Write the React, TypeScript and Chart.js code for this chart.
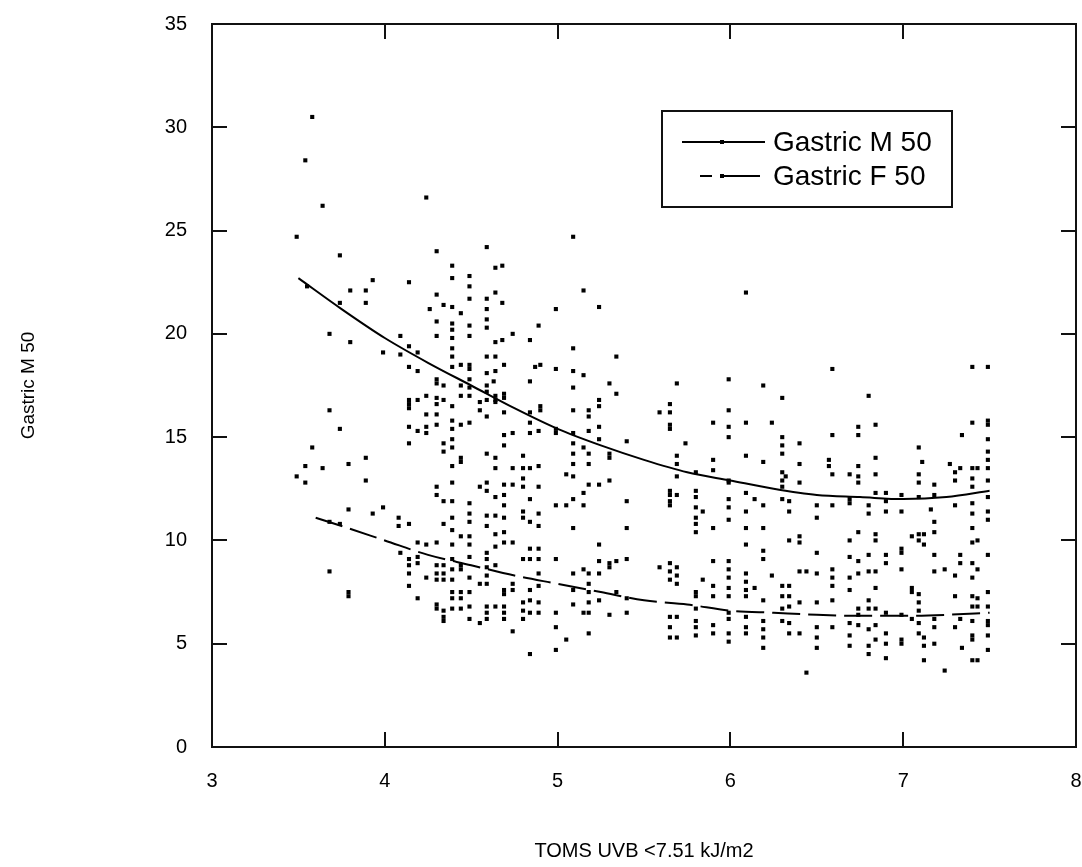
import React, { useEffect, useRef } from "react";
import { Chart, registerables } from "chart.js";
Chart.register(...registerables);

const xTicks = [3, 4, 5, 6, 7, 8];
const yTicks = [0, 5, 10, 15, 20, 25, 30, 35];
const seriesNames = ["Gastric M 50", "Gastric F 50"];
const xTitle = "TOMS UVB <7.51 kJ/m2";
const yTitle = "Gastric M 50";

const maleFitX = [3.5, 3.75, 4, 4.25, 4.5, 4.75, 5, 5.25, 5.5, 5.75, 6, 6.25, 6.5, 6.75, 7, 7.25, 7.5];
const maleFitY = [22.7, 21.2, 19.8, 18.6, 17.5, 16.4, 15.4, 14.6, 13.9, 13.3, 12.9, 12.5, 12.2, 12.1, 12.0, 12.1, 12.4];
const femaleFitX = [3.6, 3.75, 4, 4.25, 4.5, 4.75, 5, 5.25, 5.5, 5.75, 6, 6.25, 6.5, 6.75, 7, 7.25, 7.5];
const femaleFitY = [11.1, 10.7, 10.0, 9.3, 8.8, 8.3, 7.9, 7.5, 7.1, 6.9, 6.6, 6.5, 6.4, 6.35, 6.35, 6.4, 6.5];

const malePoints: [number, number][] = [
  [3.49, 24.7], [3.58, 30.5], [3.54, 28.4], [3.64, 26.2], [3.74, 23.8], [4.24, 26.6], [4.3, 24.0], [3.55, 22.3],
  [3.8, 22.1], [3.89, 22.1], [3.93, 22.6], [4.14, 22.5], [3.74, 21.5], [3.89, 21.5], [4.3, 21.9], [4.34, 21.4],
  [4.26, 21.2], [4.3, 20.6], [4.3, 19.9], [3.68, 20.0], [3.8, 19.6], [4.09, 19.9], [4.14, 19.4], [3.68, 16.3],
  [3.74, 15.4], [3.58, 14.5], [3.54, 13.6], [3.64, 13.5], [3.49, 13.1], [3.54, 12.8], [3.79, 13.7], [3.89, 14.0],
  [3.89, 12.9],
  [4.59, 24.2], [4.39, 23.3], [4.39, 22.7], [4.49, 22.8], [4.49, 22.3], [4.49, 21.7], [4.64, 23.2], [4.68, 23.3],
  [4.64, 22.0], [4.68, 21.5], [4.39, 21.3], [4.44, 21.0], [4.39, 20.5], [4.39, 20.2], [4.39, 19.8], [4.49, 20.4],
  [4.49, 19.9], [4.59, 21.7], [4.59, 21.2], [4.59, 20.7], [4.59, 20.3], [4.64, 19.6], [4.68, 19.7], [4.74, 20.0],
  [4.84, 19.7], [4.89, 20.4], [4.99, 21.2], [5.15, 22.1], [5.24, 21.3], [5.09, 19.3], [4.39, 19.3], [6.09, 22.0],
  [5.09, 24.7],
  [3.99, 19.1], [4.09, 19.0], [4.19, 19.1], [4.39, 18.9], [4.59, 18.9], [4.64, 18.9], [4.14, 18.4], [4.19, 18.2],
  [4.39, 18.4], [4.44, 18.5], [4.49, 18.5], [4.49, 18.3], [4.59, 18.1], [4.64, 18.2], [4.69, 18.5], [4.87, 18.4],
  [4.9, 18.5], [4.99, 18.3], [5.09, 18.2], [5.15, 18.0], [5.34, 18.9],
  [4.3, 17.8], [4.3, 17.6], [4.34, 17.5], [4.44, 17.5], [4.44, 17.0], [4.49, 17.8], [4.49, 17.4], [4.49, 17.0],
  [4.59, 17.5], [4.59, 17.2], [4.59, 16.8], [4.63, 17.7], [4.64, 17.0], [4.64, 16.8], [4.69, 17.1], [4.69, 16.9],
  [4.84, 17.7], [5.09, 17.4], [5.3, 17.6], [5.34, 17.1],
  [4.14, 16.8], [4.14, 16.6], [4.14, 16.4], [4.19, 16.8], [4.24, 17.0], [4.3, 16.9], [4.3, 16.6], [4.34, 16.8],
  [4.39, 16.5], [4.55, 16.7], [4.55, 16.3], [4.59, 16.0], [4.64, 16.7], [4.69, 16.2], [4.84, 16.2], [4.9, 16.5],
  [4.9, 16.3], [5.09, 16.3], [5.18, 16.3], [5.18, 16.0], [5.24, 16.8], [5.24, 16.5],
  [4.24, 16.1], [4.3, 16.1], [4.14, 15.5], [4.19, 15.3], [4.24, 15.5], [4.24, 15.2], [4.3, 15.6], [4.39, 15.8],
  [4.39, 15.4], [4.44, 15.6], [4.49, 15.7], [4.84, 15.7], [4.84, 15.2], [4.89, 15.3], [4.99, 15.4], [4.99, 15.2],
  [5.09, 15.2], [5.09, 14.7], [5.18, 15.3], [5.24, 15.5], [5.24, 14.9],
  [4.14, 14.7], [4.34, 14.7], [4.34, 14.3], [4.39, 14.9], [4.39, 14.5], [4.69, 15.1], [4.69, 14.6], [4.74, 15.2],
  [5.15, 14.5], [5.18, 14.2], [5.18, 13.7], [5.3, 14.2], [5.3, 14.0], [5.4, 14.8], [5.09, 14.2], [5.09, 13.7],
  [4.44, 14.0], [4.44, 13.8], [4.39, 13.6], [4.59, 14.2], [4.64, 14.0], [4.64, 13.5], [4.8, 14.1], [4.8, 13.5],
  [4.8, 13.0], [4.74, 13.5], [4.84, 13.5], [4.89, 13.6], [5.05, 13.2], [5.09, 13.1], [5.3, 12.9], [5.18, 12.7],
  [5.24, 12.7],
  [4.3, 12.6], [4.3, 12.2], [4.39, 12.8], [4.55, 12.6], [4.59, 12.8], [4.59, 12.4], [4.64, 12.1], [4.69, 12.7],
  [4.69, 12.2], [4.74, 12.7], [4.8, 12.6], [4.84, 12.0], [4.89, 12.6], [5.09, 12.0], [5.15, 12.3], [5.15, 11.7],
  [5.4, 11.9], [4.99, 11.7], [4.34, 11.9], [4.39, 11.9], [4.49, 11.8], [4.69, 11.7], [5.05, 11.7],
  [5.69, 17.6], [5.59, 16.2], [5.65, 16.6], [5.65, 16.2], [5.65, 15.6], [5.65, 15.4], [5.74, 14.7], [5.69, 14.1],
  [5.69, 13.7], [5.69, 13.1], [5.65, 12.4], [5.65, 12.2], [5.69, 12.2], [5.65, 11.9], [5.65, 11.7], [5.8, 13.3],
  [5.8, 12.4], [5.8, 12.1], [5.8, 11.6], [5.84, 11.4], [5.9, 15.7], [5.9, 13.9], [5.9, 13.4], [5.99, 17.8],
  [5.99, 16.3], [5.99, 15.5], [5.99, 15.0], [5.99, 12.9], [5.99, 12.8], [5.99, 12.0], [5.99, 11.6], [6.09, 15.7],
  [6.09, 14.1], [6.09, 12.3], [6.09, 11.4], [6.14, 12.0], [6.19, 17.5], [6.19, 13.8], [6.19, 11.7], [6.24, 15.7],
  [6.3, 16.9], [6.3, 15.0], [6.3, 14.6], [6.3, 14.2], [6.3, 13.3], [6.3, 12.9], [6.3, 12.6], [6.32, 13.1],
  [6.3, 12.0], [6.34, 11.9], [6.34, 11.4], [6.5, 11.7], [6.5, 11.1], [6.4, 14.7], [6.4, 13.7], [6.4, 12.8],
  [6.59, 18.3], [6.59, 15.1], [6.57, 13.9], [6.57, 13.6], [6.59, 13.2], [6.59, 11.7], [6.69, 13.2], [6.69, 12.0],
  [6.69, 11.8], [6.74, 15.5], [6.74, 15.1], [6.74, 13.6], [6.74, 13.1], [6.74, 12.8], [6.8, 17.0], [6.8, 11.7],
  [6.8, 11.3], [6.84, 15.6], [6.84, 14.0], [6.84, 13.2], [6.84, 12.3], [6.9, 12.3], [6.9, 11.9], [6.9, 11.4],
  [6.99, 12.2], [6.99, 11.4], [7.09, 14.5], [7.09, 13.2], [7.09, 12.8], [7.09, 12.1], [7.11, 13.8], [7.18, 12.7],
  [7.18, 12.2], [7.16, 11.5], [7.27, 13.7], [7.3, 13.3], [7.3, 12.9], [7.3, 11.7], [7.33, 13.5], [7.34, 15.1],
  [7.4, 18.4], [7.4, 15.7], [7.4, 13.5], [7.4, 13.0], [7.4, 12.6], [7.4, 11.8], [7.4, 11.3], [7.43, 13.5],
  [7.49, 18.4], [7.49, 15.8], [7.49, 15.6], [7.49, 14.9], [7.49, 14.3], [7.49, 13.9], [7.49, 13.5], [7.49, 12.9],
  [7.49, 12.1], [7.49, 11.4], [7.49, 11.0],
];

const femalePoints: [number, number][] = [
  [3.79, 11.5], [3.93, 11.3], [3.99, 11.6], [3.68, 10.9], [3.74, 10.8], [3.68, 8.5], [3.79, 7.5], [3.79, 7.3],
  [4.08, 11.1], [4.08, 10.7], [4.14, 10.8], [4.34, 10.8], [4.39, 11.1], [4.39, 10.5], [4.39, 9.8], [4.44, 10.2],
  [4.49, 11.3], [4.49, 10.9], [4.49, 10.2], [4.49, 9.8], [4.59, 11.2], [4.59, 10.7], [4.64, 11.2], [4.64, 10.3],
  [4.64, 9.7], [4.69, 11.1], [4.69, 10.4], [4.69, 9.9], [4.74, 9.9], [4.8, 11.4], [4.8, 11.1], [4.84, 10.9],
  [4.89, 11.3], [4.89, 10.7], [5.09, 10.6], [5.4, 10.6], [5.24, 9.8],
  [4.3, 9.9], [4.24, 9.8], [4.19, 9.9], [4.09, 9.4], [4.14, 9.1], [4.14, 8.8], [4.14, 8.4], [4.19, 9.2],
  [4.19, 8.9], [4.24, 8.2], [4.3, 8.8], [4.3, 8.4], [4.3, 8.1], [4.34, 8.8], [4.34, 8.4], [4.34, 8.1],
  [4.39, 9.1], [4.39, 8.6], [4.39, 8.1], [4.44, 8.8], [4.44, 8.6], [4.49, 9.2], [4.49, 8.2], [4.55, 7.9],
  [4.59, 9.4], [4.59, 9.1], [4.59, 8.7], [4.59, 8.3], [4.59, 7.9], [4.64, 8.8], [4.8, 9.1], [4.84, 9.6],
  [4.84, 9.1], [4.89, 9.6], [4.89, 9.1], [4.89, 8.4], [4.89, 7.8], [4.99, 9.1], [5.09, 8.4], [5.09, 7.6],
  [5.15, 8.6], [5.18, 8.4], [5.18, 7.9], [5.24, 9.0], [5.24, 8.4], [5.3, 8.9], [5.3, 8.7], [5.34, 9.0],
  [5.4, 9.1], [5.4, 7.2],
  [4.14, 7.8], [4.19, 7.2], [4.3, 6.9], [4.3, 6.7], [4.34, 6.6], [4.34, 6.3], [4.34, 6.1], [4.39, 7.5],
  [4.39, 7.2], [4.39, 6.7], [4.44, 7.5], [4.44, 7.2], [4.44, 6.7], [4.49, 7.5], [4.49, 6.8], [4.49, 6.2],
  [4.55, 6.0], [4.59, 6.8], [4.59, 6.5], [4.59, 6.2], [4.64, 6.8], [4.69, 6.8], [4.69, 6.5], [4.69, 6.2],
  [4.69, 7.6], [4.69, 7.4], [4.74, 7.9], [4.74, 7.6], [4.8, 7.0], [4.8, 6.6], [4.8, 6.2], [4.84, 7.6],
  [4.84, 7.1], [4.84, 6.5], [4.89, 7.0], [4.89, 6.5], [4.99, 6.5], [4.99, 5.8], [4.99, 4.7], [5.05, 5.2],
  [4.84, 4.5], [4.74, 5.6], [5.09, 6.9], [5.15, 6.5], [5.18, 7.5], [5.18, 7.0], [5.18, 6.5], [5.18, 5.5],
  [5.24, 7.1], [5.3, 6.4], [5.4, 6.5], [5.34, 7.5],
  [5.59, 8.7], [5.65, 8.9], [5.65, 8.5], [5.65, 8.1], [5.69, 8.7], [5.69, 8.3], [5.69, 7.9], [5.65, 6.3],
  [5.65, 5.8], [5.65, 5.3], [5.69, 5.3], [5.69, 6.3], [5.8, 11.1], [5.8, 10.8], [5.8, 10.4], [5.8, 7.5],
  [5.8, 7.3], [5.8, 6.7], [5.8, 6.1], [5.8, 5.8], [5.8, 5.4], [5.84, 8.1], [5.9, 10.6], [5.9, 9.0],
  [5.9, 7.8], [5.9, 7.3], [5.9, 5.9], [5.9, 5.5], [5.99, 11.0], [5.99, 9.0], [5.99, 8.6], [5.99, 8.2],
  [5.99, 7.7], [5.99, 7.3], [5.99, 6.5], [5.99, 6.2], [5.99, 5.5], [5.99, 5.1], [6.09, 10.6], [6.09, 9.8],
  [6.09, 8.4], [6.09, 8.0], [6.09, 7.6], [6.09, 7.3], [6.09, 6.3], [6.09, 5.8], [6.09, 5.5], [6.14, 7.7],
  [6.19, 10.6], [6.19, 9.5], [6.19, 9.1], [6.19, 7.1], [6.19, 6.1], [6.19, 5.7], [6.19, 5.3], [6.19, 4.8],
  [6.24, 8.3], [6.3, 7.8], [6.3, 7.3], [6.3, 6.7], [6.3, 6.1], [6.34, 7.8], [6.34, 7.3], [6.34, 6.8],
  [6.34, 6.0], [6.34, 5.5], [6.34, 10.0], [6.4, 10.2], [6.4, 9.9], [6.4, 8.5], [6.44, 8.5], [6.4, 7.0],
  [6.4, 5.5], [6.44, 3.6], [6.5, 9.4], [6.5, 8.4], [6.5, 7.0], [6.5, 5.8], [6.5, 5.3], [6.5, 4.8],
  [6.59, 8.6], [6.59, 8.2], [6.59, 7.8], [6.59, 7.1], [6.59, 5.8], [6.69, 10.0], [6.69, 9.2], [6.69, 8.2],
  [6.69, 7.6], [6.69, 6.0], [6.69, 5.4], [6.69, 4.9], [6.74, 10.4], [6.74, 9.0], [6.74, 8.4], [6.74, 6.7],
  [6.74, 6.4], [6.74, 5.9], [6.8, 9.3], [6.8, 8.5], [6.8, 7.1], [6.8, 6.7], [6.8, 5.7], [6.8, 4.9],
  [6.8, 4.5], [6.84, 10.3], [6.84, 10.0], [6.84, 8.5], [6.84, 7.7], [6.84, 6.7], [6.84, 5.9], [6.84, 5.2],
  [6.9, 9.3], [6.9, 8.9], [6.9, 6.5], [6.9, 5.5], [6.9, 5.0], [6.9, 4.3], [6.99, 9.6], [6.99, 9.4],
  [6.99, 8.6], [6.99, 6.4], [6.99, 5.2], [6.99, 5.0], [7.05, 10.2], [7.05, 7.7], [7.05, 7.5], [7.05, 6.2],
  [7.09, 10.3], [7.09, 10.0], [7.09, 7.4], [7.09, 7.0], [7.09, 6.6], [7.09, 6.0], [7.09, 5.5], [7.12, 10.3],
  [7.12, 9.8], [7.12, 5.3], [7.12, 4.9], [7.12, 4.2], [7.18, 10.9], [7.18, 10.4], [7.18, 9.3], [7.18, 8.5],
  [7.18, 6.2], [7.18, 5.8], [7.18, 5.0], [7.24, 8.6], [7.24, 3.7], [7.3, 8.3], [7.3, 7.3], [7.3, 5.8],
  [7.33, 9.3], [7.33, 8.9], [7.33, 6.2], [7.34, 4.8], [7.4, 10.6], [7.4, 9.9], [7.4, 8.9], [7.4, 8.2],
  [7.4, 7.3], [7.4, 6.8], [7.4, 6.1], [7.4, 5.4], [7.4, 5.2], [7.4, 4.2], [7.43, 10.0], [7.43, 8.6],
  [7.43, 7.2], [7.43, 6.8], [7.43, 4.2], [7.49, 9.3], [7.49, 7.5], [7.49, 6.8], [7.49, 6.1], [7.49, 5.9],
  [7.49, 5.4], [7.49, 4.7],
];

const AXIS_FONT = "'Liberation Sans', Arial, sans-serif";
const LEGEND_FONT = "'Liberation Sans', Arial, sans-serif";

const framePlugin = {
  id: "frameTicksLegend",
  afterDatasetsDraw(chart: any) {
    const { ctx, chartArea, scales } = chart;
    const { left, right, top, bottom } = chartArea;
    const xs = scales.x;
    const ys = scales.y;
    ctx.save();
    ctx.strokeStyle = "#111";
    ctx.lineWidth = 2;
    ctx.strokeRect(left, top, right - left, bottom - top);
    ctx.beginPath();
    for (const v of yTicks) {
      const py = Math.round(ys.getPixelForValue(v));
      ctx.moveTo(left, py);
      ctx.lineTo(left + 15, py);
      ctx.moveTo(right, py);
      ctx.lineTo(right - 15, py);
    }
    for (const v of xTicks) {
      const px = Math.round(xs.getPixelForValue(v));
      ctx.moveTo(px, bottom);
      ctx.lineTo(px, bottom - 15);
      ctx.moveTo(px, top);
      ctx.lineTo(px, top + 15);
    }
    ctx.stroke();

    // legend box
    const bx = left + 450;
    const by = top + 87;
    const bw = 290;
    const bh = 96;
    ctx.fillStyle = "#fff";
    ctx.fillRect(bx, by, bw, bh);
    ctx.strokeStyle = "#111";
    ctx.lineWidth = 2;
    ctx.strokeRect(bx, by, bw, bh);
    const row1 = by + 31;
    const row2 = by + 65;
    ctx.strokeStyle = "#000";
    ctx.lineWidth = 2;
    ctx.beginPath();
    ctx.moveTo(bx + 20, row1);
    ctx.lineTo(bx + 103, row1);
    ctx.moveTo(bx + 38, row2);
    ctx.lineTo(bx + 50, row2);
    ctx.moveTo(bx + 60, row2);
    ctx.lineTo(bx + 98, row2);
    ctx.stroke();
    ctx.fillStyle = "#000";
    ctx.fillRect(bx + 58, row1 - 2, 4, 4);
    ctx.fillRect(bx + 58, row2 - 2, 4, 4);
    ctx.font = `28px ${LEGEND_FONT}`;
    ctx.textBaseline = "middle";
    ctx.textAlign = "left";
    ctx.fillText(seriesNames[0], bx + 111, row1 + 1);
    ctx.fillText(seriesNames[1], bx + 111, row2 + 1);
    ctx.restore();
  },
};

export default function App() {
  const ref = useRef<HTMLCanvasElement | null>(null);
  useEffect(() => {
    if (!ref.current) return;
    const pointStyle = {
      showLine: false,
      pointStyle: "rect",
      pointRadius: 2.9,
      pointBackgroundColor: "#000",
      pointBorderWidth: 0,
      pointBorderColor: "#000",
    };
    const chart = new Chart(ref.current, {
      type: "scatter",
      data: {
        datasets: [
          {
            label: seriesNames[0] + " data",
            data: malePoints.map(([x, y]) => ({ x, y })),
            ...pointStyle,
          } as any,
          {
            label: seriesNames[1] + " data",
            data: femalePoints.map(([x, y]) => ({ x, y })),
            ...pointStyle,
          } as any,
          {
            label: seriesNames[0],
            data: maleFitX.map((x, i) => ({ x, y: maleFitY[i] })),
            showLine: true,
            pointRadius: 0,
            borderColor: "#000",
            borderWidth: 2,
            cubicInterpolationMode: "monotone",
          } as any,
          {
            label: seriesNames[1],
            data: femaleFitX.map((x, i) => ({ x, y: femaleFitY[i] })),
            showLine: true,
            pointRadius: 0,
            borderColor: "#000",
            borderWidth: 2,
            borderDash: [28, 8],
            cubicInterpolationMode: "monotone",
          } as any,
        ],
      },
      options: {
        responsive: false,
        animation: false,
        devicePixelRatio: 1,
        events: [],
        layout: { padding: { top: 24, right: 6, left: 0, bottom: 0 } },
        plugins: {
          legend: { display: false },
          tooltip: { enabled: false },
        },
        scales: {
          x: {
            type: "linear",
            min: 3,
            max: 8,
            afterFit: (s: any) => {
              s.height = 120;
            },
            afterBuildTicks: (s: any) => {
              s.ticks = xTicks.map((v) => ({ value: v }));
            },
            ticks: {
              padding: 0,
              color: "#000",
              font: { size: 20, family: AXIS_FONT },
            },
            grid: { display: false, drawTicks: true, tickLength: 22 },
            border: { display: false },
            title: {
              display: true,
              text: xTitle,
              color: "#000",
              font: { size: 20, family: AXIS_FONT },
              padding: { top: 0, bottom: 4 },
            },
          },
          y: {
            type: "linear",
            min: 0,
            max: 35,
            afterFit: (s: any) => {
              s.width = 212;
            },
            afterBuildTicks: (s: any) => {
              s.ticks = yTicks.map((v) => ({ value: v }));
            },
            ticks: {
              padding: 0,
              color: "#000",
              font: { size: 20, family: AXIS_FONT },
            },
            grid: { display: false, drawTicks: true, tickLength: 25 },
            border: { display: false },
            title: {
              display: true,
              text: yTitle,
              color: "#000",
              font: { size: 19, family: AXIS_FONT },
              padding: { top: 17, bottom: 0 },
            },
          },
        },
      } as any,
      plugins: [framePlugin],
    });
    return () => chart.destroy();
  }, []);
  return (
    <div style={{ position: "absolute", left: 0, top: 0, width: 1082, height: 867, background: "#fff" }}>
      <canvas ref={ref} width={1082} height={867} style={{ display: "block" }} />
    </div>
  );
}
